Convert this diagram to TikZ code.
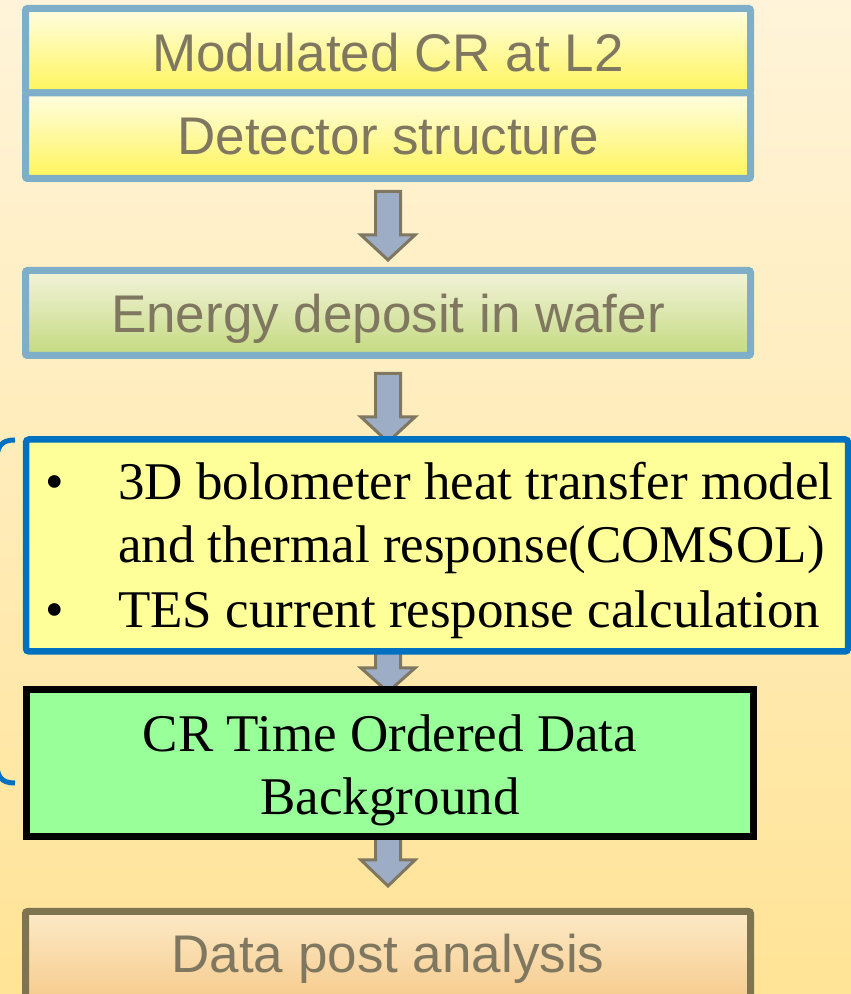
\documentclass[tikz,border=0pt]{standalone}
\usepackage{fontspec}
\setmainfont{Liberation Serif}
\newfontfamily\sansf{Liberation Sans}
\usetikzlibrary{calc}
\definecolor{bgtop}{HTML}{FFF4D9}
\definecolor{bgbot}{HTML}{FFE396}
\definecolor{steel}{HTML}{7FAFC8}
\definecolor{olivetext}{HTML}{7F7760}
\definecolor{arrfill}{HTML}{9EADC6}
\definecolor{pblue}{HTML}{0070C0}
\definecolor{ylwA}{HTML}{FFFDE2}
\definecolor{ylwB}{HTML}{FFF55A}
\definecolor{grnA}{HTML}{F4F3DA}
\definecolor{grnB}{HTML}{C3DA80}
\definecolor{orgA}{HTML}{FCEAC6}
\definecolor{orgB}{HTML}{F5C37E}
\definecolor{bordbrown}{HTML}{7F7450}
\definecolor{lightyellow}{HTML}{FFFF99}
\definecolor{lightgreen}{HTML}{99FF99}
\newcommand\blockarrow[3]{%
  \draw[blockarr] ($(#1)+(-12.5,0)$) -- ($(#2)+(-12.5,0)$) -- ($(#2)+(-27,0)$) -- (#3)
    -- ($(#2)+(27,0)$) -- ($(#2)+(12.5,0)$) -- ($(#1)+(12.5,0)$) -- cycle;}
\tikzset{
  blockarr/.style={draw=olivetext, fill=arrfill, line width=3pt, line join=miter},
  softbox/.style={rectangle, draw=steel, line width=7pt, rounded corners=2pt, inner sep=0pt},
  sanstxt/.style={font=\sansf\fontsize{53}{63}\selectfont, text=olivetext, inner sep=0pt, anchor=base},
  sertxt/.style={font=\fontsize{53}{63}\selectfont, text=black, inner sep=0pt},
}
\begin{document}
\begin{tikzpicture}[x=1pt,y=1pt]
\useasboundingbox (0,0) rectangle (851,994);
\clip (0,0) rectangle (851,994);
\shade[top color=bgtop, bottom color=bgbot] (0,0) rectangle (851,994);

% arrows (behind boxes)
\coordinate (a1s) at (388,802.5); \coordinate (a1h) at (388,759); \coordinate (a1t) at (388,734);
\coordinate (a2s) at (388,620.5); \coordinate (a2h) at (388,577); \coordinate (a2t) at (388,552);
\coordinate (a3s) at (388,380);   \coordinate (a3h) at (388,326); \coordinate (a3t) at (388,302);
\coordinate (a4s) at (388,180);   \coordinate (a4h) at (388,134); \coordinate (a4t) at (388,108);
\blockarrow{a1s}{a1h}{a1t}
\blockarrow{a2s}{a2h}{a2t}
\blockarrow{a3s}{a3h}{a3t}
\blockarrow{a4s}{a4h}{a4t}

% top double box
\node[softbox, top color=ylwA, bottom color=ylwB, minimum width=725pt, minimum height=84.5pt] (mod) at (388,943.25) {};
\node[softbox, top color=ylwA, bottom color=ylwB, minimum width=725pt, minimum height=85.5pt] (det) at (388,858.25) {};
\node[sanstxt] (tmod) at (388,922) {Modulated CR at L2};
\node[sanstxt] (tdet) at (388,839) {Detector structure};

% energy box
\node[softbox, top color=grnA, bottom color=grnB, minimum width=725pt, minimum height=85pt] (ene) at (388,681) {};
\node[sanstxt] (tene) at (388,661) {Energy deposit in wafer};

% bracket on the left
\draw[pblue, line width=5pt] (15,554) .. controls (1,554) and (-3.5,548) .. (-3.5,530) -- (-3.5,235)
  .. controls (-3.5,217) and (1,211) .. (15,211);

% blue box
\node[rectangle, draw=pblue, fill=lightyellow, line width=6.5pt, rounded corners=3pt,
      minimum width=822pt, minimum height=212pt, inner sep=0pt] (model) at (437,448.5) {};
\node[sertxt, anchor=base] (b1) at (54.5,494) {•};
\node[sertxt, anchor=base west] (l1) at (118,494) {3D bolometer heat transfer model};
\node[sertxt, anchor=base west] (l2) at (118,431) {and thermal response(COMSOL)};
\node[sertxt, anchor=base] (b2) at (54.5,366) {•};
\node[sertxt, anchor=base west] (l3) at (118,366) {TES current response calculation};

% green box
\node[rectangle, draw=black, fill=lightgreen, line width=7pt,
      minimum width=727.5pt, minimum height=146.5pt, inner sep=0pt] (tod) at (389.75,230.75) {};
\node[sertxt, anchor=base] (g1) at (390,242) {CR Time Ordered Data};
\node[sertxt, anchor=base] (g2) at (390,179) {Background};

% bottom box
\node[softbox, draw=bordbrown, top color=orgA, bottom color=orgB, minimum width=725pt, minimum height=112.5pt] (post) at (388,26.25) {};
\node[sanstxt] (tpost) at (388,21) {Data post analysis};
\end{tikzpicture}
\end{document}
